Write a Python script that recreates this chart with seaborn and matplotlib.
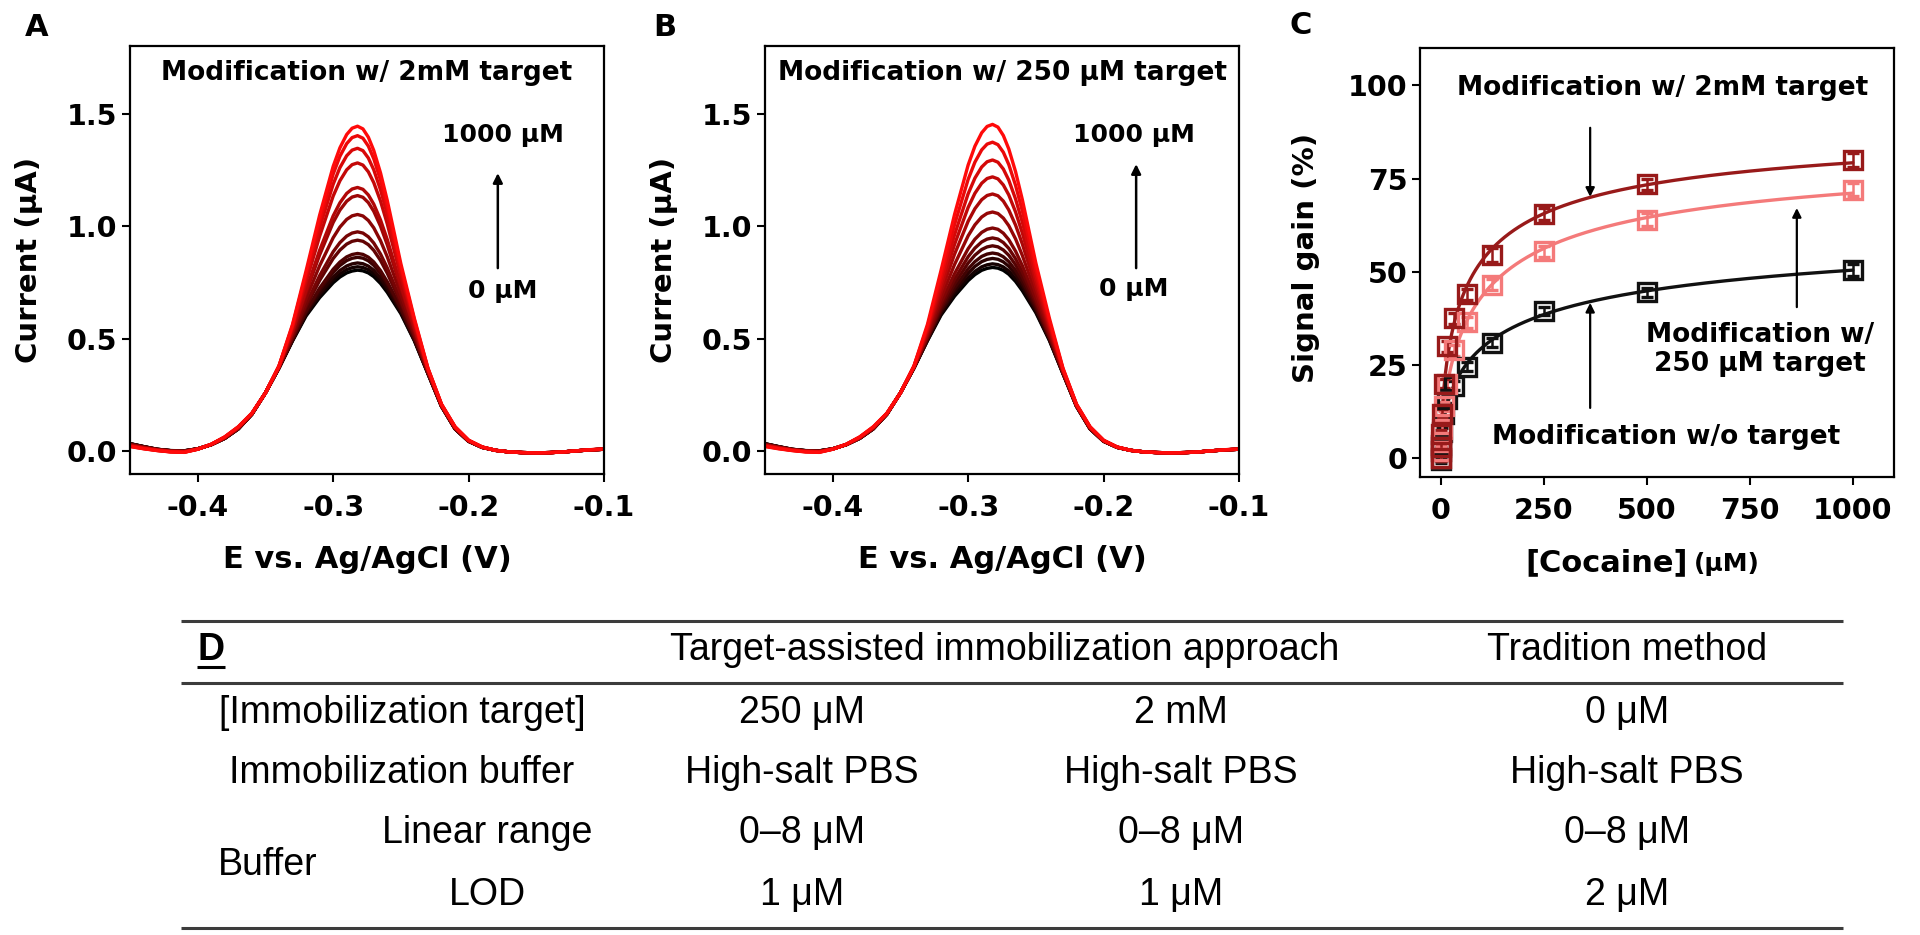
import numpy as np
import pandas as pd
import matplotlib
matplotlib.use('Agg')
import matplotlib.pyplot as plt
import seaborn as sns
from matplotlib.colors import LinearSegmentedColormap

# ---- data ----
# potential grid (V) shared by the voltammograms
potential = [-0.45, -0.44, -0.43, -0.42, -0.41, -0.40, -0.39, -0.38, -0.37, -0.36,
             -0.35, -0.34, -0.33, -0.32, -0.31, -0.30, -0.295, -0.29, -0.286, -0.282,
             -0.278, -0.274, -0.27, -0.265, -0.26, -0.25, -0.24, -0.23, -0.22, -0.21,
             -0.20, -0.19, -0.18, -0.17, -0.16, -0.15, -0.14, -0.13, -0.12, -0.11, -0.10]
# lowest (0 uM, black) and highest (1000 uM, red) traces, uA
trace_low = [0.035, 0.022, 0.010, 0.004, 0.003, 0.012, 0.030, 0.058, 0.100, 0.165,
             0.260, 0.370, 0.490, 0.600, 0.680, 0.745, 0.770, 0.788, 0.796, 0.800,
             0.797, 0.788, 0.772, 0.742, 0.703, 0.610, 0.490, 0.345, 0.200, 0.100,
             0.045, 0.018, 0.005, -0.002, -0.005, -0.006, -0.005, -0.002, 0.003, 0.007, 0.010]
trace_high = [0.022, 0.012, 0.004, -0.002, -0.004, 0.010, 0.032, 0.065, 0.110, 0.170,
              0.260, 0.380, 0.564, 0.802, 1.049, 1.266, 1.349, 1.408, 1.436, 1.445,
              1.433, 1.396, 1.337, 1.237, 1.114, 0.834, 0.590, 0.370, 0.210, 0.110,
              0.050, 0.020, 0.005, -0.002, -0.005, -0.006, -0.005, -0.002, 0.003, 0.008, 0.010]
# peak currents of each titration step, low to high concentration
peaks_2mM = [0.805, 0.820, 0.837, 0.862, 0.879, 0.938, 0.975, 1.052, 1.136, 1.172,
             1.281, 1.346, 1.402, 1.444]
peaks_250uM = [0.817, 0.833, 0.857, 0.881, 0.913, 0.948, 0.992, 1.063, 1.143, 1.219,
               1.294, 1.373, 1.452]

# panel C: signal gain vs cocaine
cocaine = [0, 1, 2, 4, 8, 16, 32, 64, 125, 250, 500, 1000]
gain_2mM = [0, 3, 6.5, 12, 20, 30, 37.5, 44, 54.5, 65.5, 73.5, 80]
gain_250uM = [0, 2, 4.5, 8, 14, 20, 29, 36.5, 46.5, 55.5, 64, 72]
gain_none = [-0.5, 2, 3.5, 7, 12, 16, 19.5, 24.5, 31, 39.5, 44.5, 50.5]
err_2mM = [0.8, 1, 1, 1.2, 1.2, 1.5, 1.5, 1.5, 1.8, 1.5, 1.5, 1.8]
err_250uM = [0.8, 1, 1, 1.2, 1.2, 1.5, 1.5, 1.5, 1.5, 1.5, 1.8, 1.8]
err_none = [0.8, 1, 1, 1.2, 1.2, 1.2, 1.2, 1.2, 1.2, 1.2, 1.2, 1.5]

# panel D table
header = ['Target-assisted immobilization approach', 'Tradition method']
row_labels = ['[Immobilization target]', 'Immobilization buffer', 'Linear range', 'LOD']
col_250uM = ['250 μM', 'High-salt PBS', '0–8 μM', '1 μM']
col_2mM = ['2 mM', 'High-salt PBS', '0–8 μM', '1 μM']
col_trad = ['0 μM', 'High-salt PBS', '0–8 μM', '2 μM']

# ---- style ----
sns.set_theme(style='ticks')
plt.rcParams['font.family'] = ['DejaVu Sans']
plt.rcParams.update({
    'font.weight': 'bold',
    'text.color': 'black',
    'axes.labelcolor': 'black',
    'axes.labelweight': 'bold',
    'axes.unicode_minus': False,
    'axes.linewidth': 1.6,
    'axes.edgecolor': 'black',
    'xtick.major.size': 6, 'ytick.major.size': 5.5,
    'xtick.major.width': 1.5, 'ytick.major.width': 1.5,
    'xtick.labelsize': 20.5, 'ytick.labelsize': 20.5,
    'xtick.color': 'black', 'ytick.color': 'black',
    'xtick.major.pad': 8.5, 'ytick.major.pad': 3.5,
})

fig = plt.figure(figsize=(19.2, 9.35), dpi=100)
W, H = 1920, 935


def px_axes(left, top, right, bottom):
    return fig.add_axes([left / W, 1 - bottom / H, (right - left) / W, (bottom - top) / H])


cmap = LinearSegmentedColormap.from_list('kr', ['#000000', '#ff0a0a'])


def draw_swv(ax, peaks, title, arrow_x, tip_y, txt_x, hi_y, lo_y):
    lo = np.array(trace_low)
    hi = np.array(trace_high)
    frames = []
    for i, h in enumerate(peaks):
        w = (h - lo.max()) / (hi.max() - lo.max())
        frames.append(pd.DataFrame({'E': potential, 'I': lo + (hi - lo) * w,
                                    'step': f's{i:02d}'}))
    df = pd.concat(frames)
    n = len(peaks)
    pal = {f's{i:02d}': cmap(i / (n - 1)) for i in range(n)}
    sns.lineplot(data=df, x='E', y='I', hue='step', palette=pal, legend=False,
                 sort=False, estimator=None, lw=2.4, ax=ax)
    ax.set_xlim(-0.45, -0.1)
    ax.set_ylim(-0.1, 1.8)
    ax.set_xticks([-0.4, -0.3, -0.2, -0.1])
    ax.set_yticks([0.0, 0.5, 1.0, 1.5])
    ax.set_xticklabels(['-0.4', '-0.3', '-0.2', '-0.1'])
    ax.set_yticklabels(['0.0', '0.5', '1.0', '1.5'])
    ax.set_xlabel('E vs. Ag/AgCl (V)', fontsize=22)
    ax.set_ylabel('Current (μA)', fontsize=21)
    ax.xaxis.set_label_coords(0.5, -0.165)
    ax.yaxis.set_label_coords(-0.183, 0.5)
    ax.text(0.5, 0.938, title, transform=ax.transAxes, ha='center', va='center',
            fontsize=19, fontweight='bold')
    ax.text(txt_x, hi_y, '1000 μM', transform=ax.transAxes, ha='center',
            va='center', fontsize=18, fontweight='bold')
    ax.text(txt_x, lo_y, '0 μM', transform=ax.transAxes, ha='center',
            va='center', fontsize=18, fontweight='bold')
    ax.annotate('', xy=(arrow_x, tip_y), xytext=(arrow_x, 0.481),
                xycoords='axes fraction',
                arrowprops=dict(arrowstyle='-|>', color='black', lw=1.8,
                                mutation_scale=14, shrinkA=0, shrinkB=0))


axA = px_axes(130, 46, 604, 474)
draw_swv(axA, peaks_2mM, 'Modification w/ 2mM target', 0.776, 0.703, 0.786, 0.792, 0.428)
axB = px_axes(765, 46, 1239, 474)
draw_swv(axB, peaks_250uM, 'Modification w/ 250 μM target', 0.783, 0.724, 0.778, 0.792, 0.432)

# ---- panel C ----
axC = px_axes(1420, 48, 1894, 477)


def hill_fit(x, y):
    x = np.asarray(x, float)
    y = np.asarray(y, float)
    best = (np.inf, None)
    for nh in np.linspace(0.4, 1.6, 61):
        for k in np.logspace(0, 3, 151):
            f = x ** nh / (k ** nh + x ** nh)
            smax = f @ y / (f @ f)
            err = np.sum((smax * f - y) ** 2)
            if err < best[0]:
                best = (err, (smax, k, nh))
    return best[1]


series = [('none', gain_none, err_none, '#111111'),
          ('250uM', gain_250uM, err_250uM, '#f47a7a'),
          ('2mM', gain_2mM, err_2mM, '#981a1a')]
xs = np.linspace(0, 1000, 600)
for name, g, e, col in series:
    smax, k, nh = hill_fit(cocaine, g)
    fit = pd.DataFrame({'x': xs, 'y': smax * xs ** nh / (k ** nh + xs ** nh)})
    sns.lineplot(data=fit, x='x', y='y', color=col, lw=2.4, ax=axC)
    axC.errorbar(cocaine, g, yerr=e, fmt='s', ms=13, mfc='none', mec=col, mew=2.4,
                 ecolor=col, elinewidth=1.8, capsize=4, capthick=1.8, zorder=3)

axC.set_xlim(-50, 1100)
axC.set_ylim(-5, 110)
axC.set_xticks([0, 250, 500, 750, 1000])
axC.set_yticks([0, 25, 50, 75, 100])
axC.set_xlabel('')
axC.set_ylabel('Signal gain (%)', fontsize=21)
axC.yaxis.set_label_coords(-0.212, 0.51)
axC.text(0.565, -0.165, '[Cocaine]', transform=axC.transAxes, ha='right', va='top',
         fontsize=22, fontweight='bold')
axC.text(0.578, -0.175, '(μM)', transform=axC.transAxes, ha='left', va='top',
         fontsize=18, fontweight='bold')
axC.text(0.511, 0.907, 'Modification w/ 2mM target', transform=axC.transAxes,
         ha='center', va='center', fontsize=19, fontweight='bold')
axC.text(0.717, 0.298, 'Modification w/\n250 μM target', transform=axC.transAxes,
         ha='center', va='center', fontsize=19, fontweight='bold', linespacing=1.15)
axC.text(0.519, 0.093, 'Modification w/o target', transform=axC.transAxes,
         ha='center', va='center', fontsize=19, fontweight='bold')
arrow_kw = dict(arrowstyle='-|>', color='black', lw=1.6, mutation_scale=13,
                shrinkA=0, shrinkB=0)
axC.annotate('', xy=(0.359, 0.653), xytext=(0.359, 0.814), xycoords='axes fraction',
             arrowprops=arrow_kw)
axC.annotate('', xy=(0.795, 0.627), xytext=(0.795, 0.396), xycoords='axes fraction',
             arrowprops=arrow_kw)
axC.annotate('', xy=(0.359, 0.406), xytext=(0.359, 0.161), xycoords='axes fraction',
             arrowprops=arrow_kw)

for ax in (axA, axB, axC):
    ax.tick_params(direction='out', top=False, right=False)
    for lab in ax.get_xticklabels() + ax.get_yticklabels():
        lab.set_fontweight('bold')

# panel letters
for letter, x, y in [('A', 37, 28), ('B', 665, 28), ('C', 1301, 26)]:
    fig.text(x / W, 1 - y / H, letter, ha='center', va='center', fontsize=22,
             fontweight='bold')

# ---- panel D table ----
tab = fig.add_axes([0, 0, 1, 1], zorder=-1)
tab.set_xlim(0, W)
tab.set_ylim(H, 0)
tab.axis('off')
tab.hlines([621, 683, 928], 181, 1843, color='#3c3c3c', lw=2.2)
tf = dict(ha='center', va='center', fontsize=27, family='Liberation Sans',
          fontweight='normal', color='black')
tab.text(197, 650, 'D', ha='left', va='center', fontsize=27,
         family='Liberation Sans', fontweight='bold')
tab.hlines(667, 197, 225, color='black', lw=2.2)
tab.text(1005, 650, header[0], **tf)
tab.text(1627, 650, header[1], **tf)
row_y = [713, 773, 833, 895]
label_x = [402, 402, 487, 487]
for y, lx, lab, a, b, c in zip(row_y, label_x, row_labels, col_250uM, col_2mM, col_trad):
    tab.text(lx, y, lab, **tf)
    tab.text(802, y, a, **tf)
    tab.text(1181, y, b, **tf)
    tab.text(1627, y, c, **tf)
tab.text(268, 865, 'Buffer', **tf)

fig.savefig('out.png', dpi=100)
